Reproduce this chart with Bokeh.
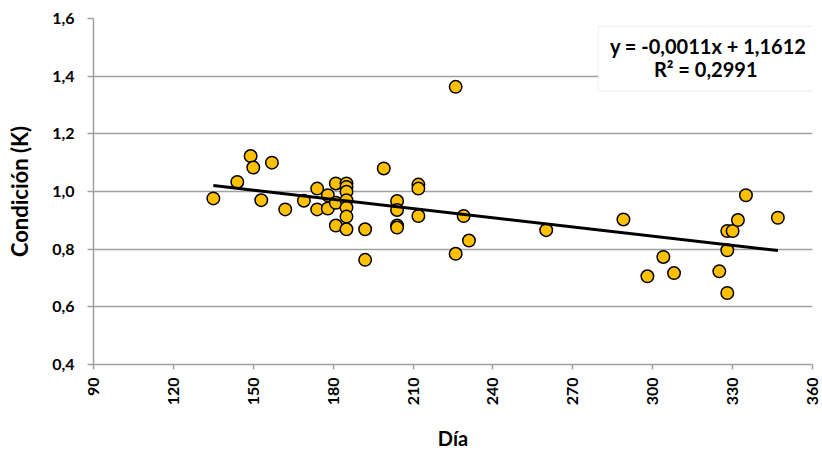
import numpy as np
from bokeh.plotting import figure
from bokeh.models import Range1d, FixedTicker, BoxAnnotation, Label
from bokeh.embed import file_html
from bokeh.resources import INLINE

# Data
dia = [135, 144, 149, 150, 153, 157, 162, 169, 174, 174, 178, 178, 181, 181, 181,
       185, 185, 185, 185, 185, 185, 185, 192, 192, 199, 204, 204, 204, 204,
       212, 212, 212, 226, 226, 229, 231, 260, 289, 298, 304, 308, 325, 328,
       328, 328, 330, 332, 335, 347]
condicion = [0.976, 1.033, 1.123, 1.083, 0.970, 1.100, 0.938, 0.968, 1.010, 0.938,
             0.987, 0.941, 1.028, 0.961, 0.882,
             1.028, 1.016, 0.999, 0.970, 0.944, 0.913, 0.869, 0.869, 0.763, 1.080,
             0.967, 0.936, 0.882, 0.875,
             1.024, 1.010, 0.915, 1.363, 0.784, 0.915, 0.830, 0.866, 0.903, 0.706,
             0.773, 0.717, 0.723, 0.648, 0.796, 0.863, 0.863, 0.901, 0.987, 0.909]
x_ticks = [90, 120, 150, 180, 210, 240, 270, 300, 330, 360]
y_ticks = [0.4, 0.6, 0.8, 1.0, 1.2, 1.4, 1.6]
y_tick_labels = ["0,4", "0,6", "0,8", "1,0", "1,2", "1,4", "1,6"]
eq_text = "y = -0,0011x + 1,1612"
r2_text = "R² = 0,2991"

FONT = "Lato"
GRAY = "#A0A0A0"

p = figure(width=822, height=453, output_backend="svg", toolbar_location=None,
           x_range=Range1d(90, 360), y_range=Range1d(0.4, 1.6),
           min_border_left=93, min_border_right=10, min_border_top=18, min_border_bottom=85)
p.outline_line_color = None
p.background_fill_color = "white"

# grid
p.xgrid.grid_line_color = None
p.ygrid.grid_line_color = GRAY
p.ygrid.grid_line_width = 1.5

# axes
p.xaxis.ticker = FixedTicker(ticks=x_ticks)
p.yaxis.ticker = FixedTicker(ticks=y_ticks)
p.yaxis.major_label_overrides = {t: l for t, l in zip(y_ticks, y_tick_labels)}
for ax in (p.xaxis[0], p.yaxis[0]):
    ax.axis_line_color = GRAY
    ax.axis_line_width = 1.5
    ax.major_tick_line_color = GRAY
    ax.major_tick_line_width = 1.5
    ax.minor_tick_line_color = None
    ax.major_label_text_font = FONT
    ax.major_label_text_font_style = "bold"
    ax.major_label_text_font_size = "16px"
    ax.major_label_text_color = "black"
    ax.axis_label_text_font = FONT
    ax.axis_label_text_font_style = "bold"
    ax.axis_label_text_color = "black"

p.xaxis.major_tick_in = 0
p.xaxis.major_tick_out = 5
p.xaxis.major_label_orientation = np.pi / 2
p.xaxis.major_label_standoff = 8
p.xaxis.axis_label = "Día"
p.xaxis.axis_label_text_font_size = "20px"
p.xaxis.axis_label_standoff = 18

p.yaxis.major_tick_in = 0
p.yaxis.major_tick_out = 6
p.yaxis.major_label_standoff = 13
p.yaxis.axis_label = "Condición (K)"
p.yaxis.axis_label_text_font_size = "22px"
p.yaxis.axis_label_standoff = 16

# points
p.scatter(dia, condicion, size=12.5, fill_color="#FFC000", line_color="black", line_width=1.5)

# linear trend line fitted from the data
coef = np.polyfit(dia, condicion, 1)
xs = np.array([min(dia), max(dia)])
p.line(xs, np.polyval(coef, xs), line_color="black", line_width=3)

# equation box
box = BoxAnnotation(left=279.5, right=362.5, bottom=1.349, top=1.5725,
                    fill_color="white", fill_alpha=1.0,
                    line_color="#C8C8C8", line_width=1)
p.add_layout(box)
p.add_layout(Label(x=320.8, y=1.5037, text=eq_text, text_align="center", text_baseline="middle",
                   text_font=FONT, text_font_style="bold", text_font_size="20px", text_color="black"))
p.add_layout(Label(x=319.9, y=1.4246, text=r2_text, text_align="center", text_baseline="middle",
                   text_font=FONT, text_font_style="bold", text_font_size="20px", text_color="black"))

open("out.html", "w").write(file_html(p, INLINE))
